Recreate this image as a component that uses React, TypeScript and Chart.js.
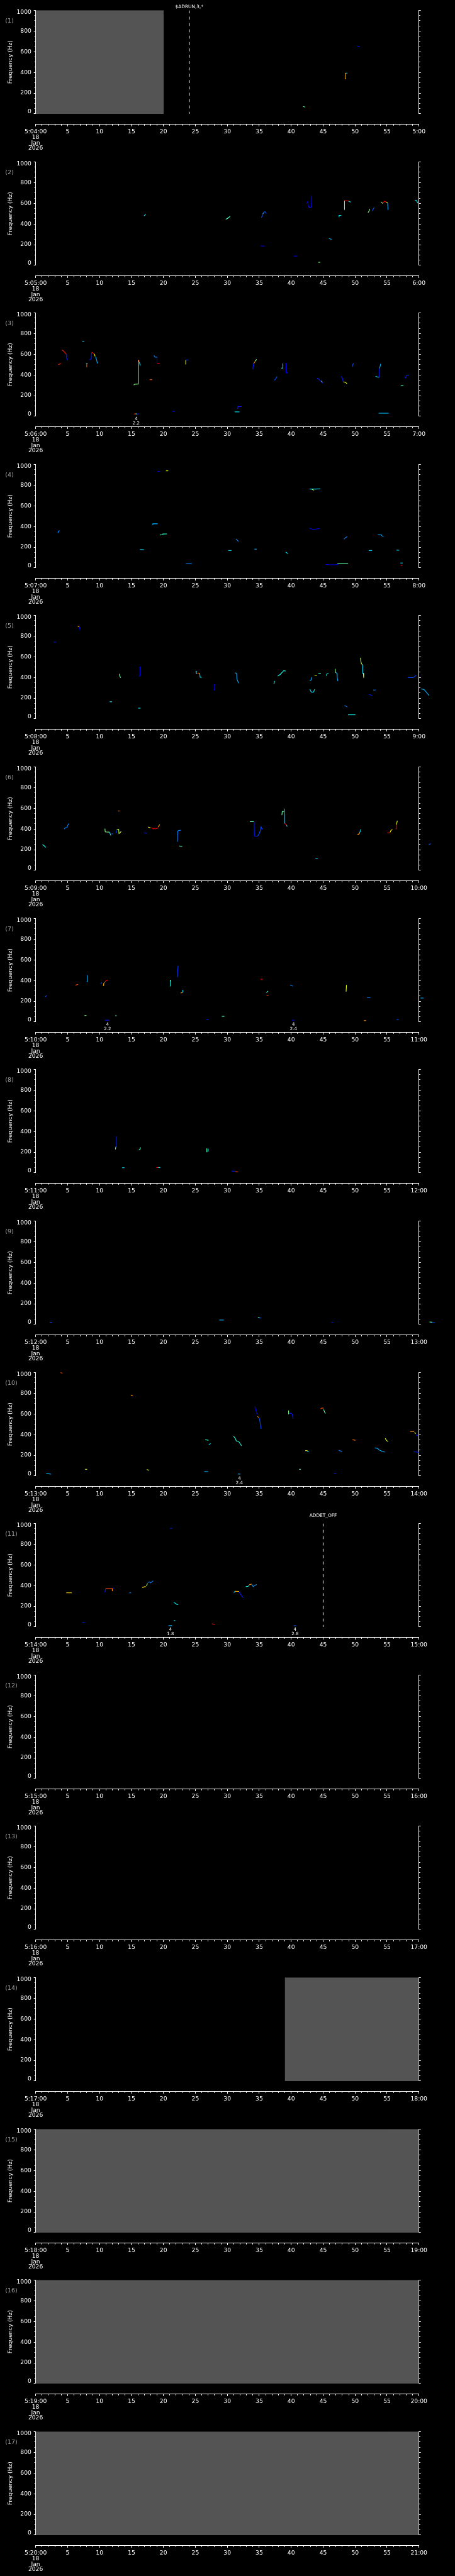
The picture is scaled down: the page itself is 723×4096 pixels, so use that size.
import React, { useEffect, useRef } from 'react';
import { Chart, registerables } from 'chart.js';

Chart.register(...registerables);

// ---------------- data ----------------
const PANEL_START = ['5:04:00', '5:05:00', '5:06:00', '5:07:00', '5:08:00', '5:09:00', '5:10:00', '5:11:00', '5:12:00', '5:13:00', '5:14:00', '5:15:00', '5:16:00', '5:17:00', '5:18:00', '5:19:00', '5:20:00'];
const PANEL_END = ['5:00', '6:00', '7:00', '8:00', '9:00', '10:00', '11:00', '12:00', '13:00', '14:00', '15:00', '16:00', '17:00', '18:00', '19:00', '20:00', '21:00'];
const DATE_LINES = ['18', 'Jan', '2026'];
const X_MIN = 0, X_MAX = 60, X_MINOR = 1, X_MAJOR = 5;
const Y_MIN = 0, Y_MAX = 1000, Y_MINOR = 50, Y_MAJOR = 200;
const Y_TITLE = 'Frequency (Hz)';

// [panel, startSecond, endSecond] – grey "no data" spans
const GRAY_SPANS: number[][] = [[0, 0, 20.05], [13, 39.0, 60], [14, 0, 60], [15, 0, 60], [16, 0, 60]];
// dashed event lines
const EVENTS = [
  { panel: 0, t: 24.05, label: '$ADRUN,3,*' },
  { panel: 10, t: 45.0, label: 'ADDET_OFF' },
];
// small two-line markers under the plot
const MARKERS = [
  { panel: 2, t: 15.74, top: '4', bottom: '2.2' },
  { panel: 6, t: 11.25, top: '4', bottom: '2.2' },
  { panel: 6, t: 40.36, top: '4', bottom: '2.4' },
  { panel: 9, t: 31.9, top: '4', bottom: '2.4' },
  { panel: 10, t: 21.1, top: '4', bottom: '1.8' },
  { panel: 10, t: 40.6, top: '4', bottom: '2.8' },
];

// traces: [level, t1, f1, t2, f2, ...]  (level = colour-map intensity 0..1)
const TRACES_1 = [
  [0.5, 41.9, 70, 42.15, 66],
  [0.78, 48.45, 338, 48.5, 340, 48.5, 392],
  [0.35, 48.55, 393, 48.75, 393],
  [0.12, 50.35, 654, 50.55, 652, 50.7, 646],
];
const TRACES_2 = [
  [0.35, 17.0, 480, 17.2, 492],
  [0.45, 29.8, 446, 30.0, 452, 30.2, 462, 30.4, 472],
  [0.66, 30.0, 452, 30.15, 460],
  [0.2, 35.35, 465, 35.5, 480, 35.6, 500, 35.75, 515, 35.9, 520, 36.05, 505],
  [0.66, 35.6, 500, 35.7, 508],
  [0.12, 35.3, 187, 35.8, 187],
  [0.12, 40.45, 90, 40.9, 90],
  [0.12, 42.45, 600, 42.6, 617, 42.7, 570, 42.85, 560, 43.15, 563, 43.2, 668],
  [0.8, 42.8, 563, 42.9, 560],
  [0.55, 44.3, 30, 44.5, 30],
  [0.3, 45.95, 260, 46.3, 252],
  [0.35, 47.5, 470, 47.5, 483, 47.8, 483],
  [0.55, 48.35, 540, 48.35, 622],
  [0.9, 48.4, 624, 49.0, 622],
  [0.35, 49.0, 620, 49.3, 612],
  [0.55, 52.05, 512, 52.2, 525, 52.3, 543],
  [0.2, 52.7, 527, 52.8, 540, 52.95, 556],
  [0.55, 54.1, 612, 54.3, 600],
  [0.9, 54.4, 605, 54.6, 620, 54.8, 615],
  [0.66, 54.9, 610, 55.05, 605],
  [0.3, 55.1, 600, 55.15, 540],
  [0.35, 59.4, 630, 59.6, 628, 59.8, 605],
];
const TRACES_3 = [
  [0.88, 3.6, 500, 3.9, 510],
  [0.88, 4.15, 640, 4.4, 630, 4.6, 615, 4.75, 605],
  [0.15, 4.8, 600, 4.85, 560, 5.0, 543],
  [0.35, 7.35, 726, 7.55, 722],
  [0.85, 8.0, 476, 8.0, 508],
  [0.35, 7.95, 510, 8.1, 510],
  [0.15, 8.5, 547, 8.7, 555, 8.75, 618],
  [0.9, 8.8, 617, 9.1, 605],
  [0.66, 9.2, 600, 9.3, 582],
  [0.3, 9.4, 570, 9.55, 545, 9.65, 515],
  [0.55, 15.4, 304, 15.5, 310, 16.0, 312],
  [0.6, 16.05, 312, 16.05, 540],
  [0.85, 16.1, 540, 16.2, 530],
  [0.35, 16.25, 520, 16.35, 494],
  [0.9, 15.4, 23, 15.6, 23],
  [0.5, 15.6, 23, 15.85, 23],
  [0.15, 15.85, 23, 16.1, 23],
  [0.85, 17.9, 354, 18.2, 354],
  [0.25, 18.55, 586, 18.7, 572, 19.0, 571],
  [0.12, 19.0, 571, 19.0, 511],
  [0.9, 19.05, 511, 19.4, 511],
  [0.12, 21.5, 47, 21.7, 47],
  [0.66, 23.5, 505, 23.5, 540],
  [0.15, 23.55, 545, 23.9, 545],
  [0.15, 31.6, 76, 31.65, 94, 32.2, 94],
  [0.35, 31.2, 43, 31.85, 43],
  [0.15, 34.0, 457, 34.1, 505],
  [0.8, 34.15, 510, 34.35, 530],
  [0.55, 34.4, 535, 34.55, 548],
  [0.2, 37.4, 351, 37.55, 361, 37.7, 375, 37.75, 383],
  [0.35, 38.5, 466, 38.7, 467, 38.7, 509],
  [0.12, 39.1, 511, 39.2, 511, 39.2, 419, 39.45, 419],
  [0.15, 44.1, 366, 44.3, 360, 44.5, 345, 44.7, 335, 44.9, 323],
  [0.66, 44.75, 340, 44.85, 330],
  [0.15, 47.85, 383, 48.0, 370, 48.15, 333],
  [0.66, 48.2, 332, 48.45, 330, 48.7, 318],
  [0.2, 49.55, 478, 49.6, 495, 49.75, 511],
  [0.35, 53.25, 386, 53.5, 380, 53.7, 378],
  [0.15, 53.75, 378, 53.8, 460],
  [0.3, 53.85, 465, 54.0, 504],
  [0.3, 53.75, 30, 55.2, 30],
  [0.45, 57.2, 294, 57.5, 300],
  [0.15, 57.8, 375, 57.95, 372, 58.0, 394, 58.4, 399],
];
const TRACES_4 = [
  [0.25, 3.5, 340, 3.55, 355, 3.7, 358],
  [0.35, 16.4, 178, 16.9, 176],
  [0.3, 18.3, 420, 18.35, 426, 19.05, 426],
  [0.12, 19.15, 933, 19.4, 933],
  [0.66, 20.45, 938, 20.7, 938],
  [0.45, 19.5, 318, 19.8, 320, 19.9, 327, 20.5, 328],
  [0.25, 23.6, 43, 24.4, 43],
  [0.35, 30.2, 168, 30.6, 168],
  [0.25, 31.4, 277, 31.55, 270, 31.7, 258],
  [0.3, 34.3, 181, 34.55, 181],
  [0.35, 39.2, 150, 39.45, 140],
  [0.35, 42.95, 762, 43.8, 762, 44.5, 764],
  [0.66, 43.3, 758, 43.5, 752],
  [0.12, 42.9, 383, 43.3, 374, 43.8, 375, 44.4, 379],
  [0.12, 45.45, 33, 46.0, 30, 47.0, 30, 47.3, 33],
  [0.5, 47.3, 40, 48.85, 40],
  [0.25, 48.3, 280, 48.5, 292, 48.75, 302],
  [0.35, 52.2, 168, 52.6, 168],
  [0.3, 53.6, 320, 54.1, 320, 54.2, 310, 54.4, 303],
  [0.35, 56.55, 172, 56.85, 170],
  [0.35, 57.15, 47, 57.4, 47],
  [0.9, 57.2, 24, 57.35, 24],
];
const TRACES_5 = [
  [0.15, 2.9, 741, 3.1, 741],
  [0.8, 6.65, 893, 6.8, 890],
  [0.12, 6.85, 885, 6.9, 872],
  [0.35, 11.65, 165, 11.9, 165],
  [0.5, 13.1, 431, 13.15, 415, 13.3, 400],
  [0.1, 16.2, 413, 16.3, 415, 16.35, 503],
  [0.35, 16.1, 103, 16.35, 103],
  [0.35, 25.1, 461, 25.15, 436],
  [0.9, 25.2, 436, 25.5, 441],
  [0.66, 25.55, 440, 25.65, 437],
  [0.35, 25.7, 430, 25.75, 402, 25.95, 400],
  [0.12, 27.95, 278, 28.0, 330, 28.1, 330],
  [0.3, 31.25, 443, 31.45, 440, 31.5, 390, 31.6, 370, 31.75, 348],
  [0.4, 37.3, 340, 37.4, 362],
  [0.4, 37.95, 415, 38.3, 430, 38.6, 450, 38.85, 465, 39.1, 462],
  [0.3, 42.95, 370, 43.1, 375, 43.2, 400],
  [0.35, 42.95, 283, 43.05, 268, 43.25, 255, 43.5, 258, 43.65, 283],
  [0.66, 43.7, 422, 44.0, 422],
  [0.45, 44.3, 437, 44.6, 437],
  [0.4, 45.5, 420, 45.6, 435, 45.8, 437],
  [0.55, 46.9, 480, 46.95, 447],
  [0.3, 47.0, 447, 47.15, 440, 47.2, 400, 47.3, 368],
  [0.25, 48.4, 128, 48.75, 115],
  [0.4, 48.95, 39, 50.0, 39],
  [0.6, 50.85, 587, 50.9, 560, 51.0, 531],
  [0.8, 51.05, 528, 51.15, 522],
  [0.35, 51.2, 520, 51.2, 437],
  [0.66, 51.3, 440, 51.35, 400],
  [0.15, 52.25, 234, 52.6, 227],
  [0.25, 52.9, 278, 53.15, 278],
  [0.2, 58.3, 400, 59.0, 398, 59.3, 405, 59.5, 418],
  [0.3, 60.4, 288, 60.8, 282, 61.0, 270, 61.3, 245, 61.55, 228],
];
const TRACES_6 = [
  [0.4, 1.1, 248, 1.3, 240, 1.55, 225],
  [0.25, 4.5, 402, 4.6, 410, 4.9, 415, 5.0, 430, 5.15, 449],
  [0.55, 10.85, 400, 10.9, 372, 11.5, 370],
  [0.35, 11.6, 365, 11.75, 340],
  [0.2, 11.9, 352, 12.1, 355],
  [0.2, 12.6, 365, 12.65, 383],
  [0.6, 12.75, 396, 13.0, 396, 13.05, 355],
  [0.65, 13.15, 360, 13.35, 374],
  [0.8, 12.95, 574, 13.1, 574],
  [0.15, 17.0, 363, 17.35, 359],
  [0.66, 17.65, 418, 17.9, 412],
  [0.92, 18.0, 412, 18.25, 408, 18.4, 400, 18.65, 408, 18.8, 400, 19.0, 408, 19.1, 409],
  [0.8, 19.2, 420, 19.4, 440],
  [0.25, 22.2, 280, 22.25, 380, 22.4, 385, 22.7, 388],
  [0.45, 22.55, 235, 22.9, 233],
  [0.5, 33.6, 471, 34.1, 471],
  [0.15, 34.2, 468, 34.25, 331, 34.7, 331],
  [0.2, 34.8, 335, 35.0, 355, 35.2, 390, 35.3, 420, 35.45, 400],
  [0.5, 38.55, 536, 38.6, 570, 38.85, 570],
  [0.35, 38.9, 593, 38.95, 458],
  [0.9, 39.0, 455, 39.25, 440],
  [0.35, 39.3, 435, 39.35, 426],
  [0.35, 43.85, 118, 44.1, 118],
  [0.8, 50.4, 350, 50.55, 346, 50.6, 355],
  [0.35, 50.7, 358, 50.8, 380, 50.85, 393],
  [0.9, 55.1, 363, 55.4, 363],
  [0.7, 55.5, 370, 55.6, 385, 55.8, 393],
  [0.9, 56.4, 402, 56.45, 440],
  [0.66, 56.5, 445, 56.6, 477],
  [0.2, 61.55, 246, 61.8, 258],
];
const TRACES_7 = [
  [0.2, 1.55, 246, 1.7, 253],
  [0.85, 6.3, 356, 6.6, 362],
  [0.55, 7.7, 62, 7.9, 62],
  [0.3, 8.05, 390, 8.1, 450],
  [0.2, 10.2, 370, 10.35, 378],
  [0.75, 10.6, 353, 10.65, 370, 10.75, 381],
  [0.9, 10.9, 390, 11.05, 403, 11.3, 405],
  [0.15, 10.9, 17, 11.5, 17],
  [0.5, 12.5, 60, 12.65, 60],
  [0.4, 21.1, 347, 21.1, 400],
  [0.66, 21.1, 395, 21.15, 403],
  [0.18, 22.2, 437, 22.25, 500, 22.3, 540],
  [0.78, 22.75, 280, 22.95, 283],
  [0.35, 23.0, 290, 23.05, 306],
  [0.15, 26.75, 24, 27.05, 24],
  [0.45, 29.2, 54, 29.5, 54],
  [0.9, 35.25, 413, 35.5, 413],
  [0.45, 36.15, 285, 36.35, 296],
  [0.85, 36.2, 253, 36.4, 253],
  [0.25, 39.9, 353, 40.2, 347],
  [0.12, 40.2, 17, 40.5, 17],
  [0.66, 48.6, 296, 48.65, 353],
  [0.8, 51.4, 13, 51.7, 13],
  [0.25, 51.9, 236, 52.35, 236],
  [0.2, 56.55, 24, 56.8, 24],
  [0.3, 60.3, 231, 60.65, 231],
];
const TRACES_8 = [
  [0.5, 12.5, 230, 12.55, 250],
  [0.15, 12.65, 252, 12.65, 351],
  [0.35, 13.6, 50, 13.85, 50],
  [0.45, 16.2, 224, 16.35, 228, 16.4, 243],
  [0.9, 18.95, 52, 19.15, 52],
  [0.35, 19.15, 52, 19.45, 52],
  [0.5, 26.8, 234, 26.8, 202],
  [0.35, 26.95, 210, 27.0, 230],
  [0.15, 30.7, 18, 31.2, 15],
  [0.85, 31.3, 12, 31.65, 9],
];
const TRACES_9 = [
  [0.2, 2.27, 20, 2.5, 20],
  [0.3, 28.8, 43, 29.4, 43],
  [0.5, 34.85, 68, 35.0, 66],
  [0.2, 35.05, 62, 35.25, 62],
  [0.15, 46.35, 20, 46.5, 20],
  [0.5, 61.7, 24, 62.0, 22],
  [0.2, 62.0, 18, 62.45, 15],
];
const TRACES_10 = [
  [0.85, 3.95, 998, 4.15, 994],
  [0.3, 1.7, 22, 2.0, 22, 2.35, 19],
  [0.66, 7.8, 65, 8.0, 65],
  [0.78, 14.95, 781, 15.15, 776],
  [0.66, 17.45, 62, 17.7, 56],
  [0.3, 26.45, 43, 26.95, 43],
  [0.45, 26.6, 350, 27.0, 346],
  [0.35, 27.15, 305, 27.35, 312],
  [0.42, 31.0, 383, 31.25, 365, 31.4, 340, 31.8, 332, 32.05, 310, 32.2, 295],
  [0.3, 31.7, 19, 32.0, 19],
  [0.12, 34.35, 669, 34.55, 620, 34.65, 600],
  [0.8, 34.75, 575, 34.9, 566],
  [0.2, 35.0, 560, 35.1, 530, 35.15, 508, 35.3, 460],
  [0.55, 39.6, 630, 39.6, 600],
  [0.15, 39.7, 605, 39.95, 607, 40.15, 600, 40.3, 557],
  [0.5, 41.3, 65, 41.45, 65],
  [0.85, 44.65, 650, 44.85, 658, 45.0, 655],
  [0.5, 45.1, 640, 45.25, 615, 45.35, 607],
  [0.15, 46.75, 26, 47.0, 26],
  [0.66, 42.25, 245, 42.5, 245],
  [0.35, 42.55, 240, 42.7, 237],
  [0.25, 47.5, 247, 47.95, 236],
  [0.82, 49.65, 350, 50.0, 346],
  [0.3, 53.15, 272, 53.5, 268, 53.8, 250, 54.2, 240, 54.6, 232],
  [0.65, 54.75, 361, 54.85, 350, 55.0, 340, 55.1, 336],
  [0.8, 58.7, 430, 59.2, 430],
  [0.66, 59.35, 420, 59.45, 410],
  [0.15, 59.6, 398, 59.75, 390],
  [0.15, 59.2, 234, 59.95, 230],
];
const TRACES_11 = [
  [0.72, 4.85, 330, 5.6, 330],
  [0.15, 7.35, 43, 7.65, 43],
  [0.15, 10.85, 338, 10.95, 368],
  [0.85, 11.0, 371, 11.95, 371],
  [0.8, 12.0, 368, 12.0, 350],
  [0.15, 12.1, 370, 12.2, 375],
  [0.25, 14.7, 330, 14.9, 330],
  [0.72, 16.75, 381, 17.0, 388, 17.2, 390],
  [0.55, 17.35, 400, 17.5, 418],
  [0.25, 17.6, 430, 17.8, 437, 18.0, 425, 18.2, 437, 18.35, 443],
  [0.15, 21.1, 953, 21.3, 953],
  [0.3, 20.85, 13, 21.3, 13],
  [0.38, 21.65, 234, 21.9, 230, 22.05, 220, 22.25, 216],
  [0.35, 21.7, 62, 21.8, 62],
  [0.92, 27.65, 30, 28.0, 24],
  [0.35, 31.05, 335, 31.2, 343],
  [0.75, 31.3, 345, 31.8, 343],
  [0.15, 31.9, 335, 32.1, 315, 32.3, 298, 32.45, 284],
  [0.38, 32.95, 390, 33.25, 393, 33.4, 400],
  [0.8, 33.5, 410, 33.75, 413],
  [0.28, 33.85, 408, 34.05, 390, 34.2, 400, 34.55, 409],
  [0.2, 40.45, 13, 40.7, 13],
];
const TRACES_12: number[][] = [];
const TRACES_13: number[][] = [];
const TRACES_14: number[][] = [];
const TRACES_15: number[][] = [];
const TRACES_16: number[][] = [];
const TRACES_17: number[][] = [];
const TRACES = [TRACES_1, TRACES_2, TRACES_3, TRACES_4, TRACES_5, TRACES_6, TRACES_7, TRACES_8, TRACES_9,
  TRACES_10, TRACES_11, TRACES_12, TRACES_13, TRACES_14, TRACES_15, TRACES_16, TRACES_17];

// ---------------- layout / style ----------------
const S = 0.705;
const W = 723;
const CANVAS_H = 241;
const PANEL_PITCH = 341.3 * S;
const FONT = "'DejaVu Sans', sans-serif";
const AREA_LEFT = 80.3 * S;
const AREA_RIGHT = 944.3 * S;
const AREA_TOP = 23.3 * S;
const AREA_BOTTOM = 256.7 * S;
const X_AXIS_VALUE = -((280.7 - 256.7) / (256.7 - 23.3)) * 1000; // x axis sits below the plot
const TICK_FONT = 13 * S;
const TITLE_FONT = 13 * S;
const TITLE_LH = TITLE_FONT * 1.2;
const PAD_LEFT = 23.3 * S - TITLE_LH / 2;
const MAJOR_TL = 4.2 * S;
const MINOR_TL = 2.6 * S;
const GRAY = '#545454';
const TRACE_W = 1.1;
const EVENT_LABEL_Y: Record<number, number> = { 0: 15.8 * S, 10: 6.2 * S };

const JET_STOPS: [number, number[]][] = [
  [0, [0, 0, 140]], [0.125, [0, 0, 255]], [0.375, [0, 255, 255]], [0.55, [128, 255, 128]],
  [0.68, [255, 255, 0]], [0.8, [255, 140, 0]], [0.9, [255, 0, 0]], [1, [140, 0, 0]],
];
function jet(v: number): string {
  for (let i = 1; i < JET_STOPS.length; i++) {
    const [p1, c1] = JET_STOPS[i];
    const [p0, c0] = JET_STOPS[i - 1];
    if (v <= p1) {
      const f = (v - p0) / (p1 - p0);
      const c = c0.map((a, k) => Math.round(a + (c1[k] - a) * f));
      return `rgb(${c[0]},${c[1]},${c[2]})`;
    }
  }
  return 'rgb(140,0,0)';
}

const isMult = (v: number, m: number) => Math.abs(v / m - Math.round(v / m)) < 1e-6;

const decorPlugin = {
  id: 'panelDecor',
  afterDraw(chart: any, _args: any, opts: any) {
    const idx = opts.index as number;
    const { ctx, chartArea } = chart;
    const xs = chart.scales.x;
    ctx.save();
    ctx.textBaseline = 'middle';
    // panel number
    ctx.fillStyle = '#a0a0a0';
    ctx.font = `${13.5 * S}px ${FONT}`;
    ctx.textAlign = 'left';
    ctx.fillText(`(${idx + 1})`, 11.8 * S, 47.5 * S);
    // event labels
    ctx.fillStyle = '#ffffff';
    ctx.textAlign = 'center';
    ctx.font = `${10.5 * S}px ${FONT}`;
    EVENTS.filter((e) => e.panel === idx).forEach((e) => {
      ctx.fillText(e.label, xs.getPixelForValue(e.t), EVENT_LABEL_Y[idx] ?? 10 * S);
    });
    // markers
    ctx.font = `${10 * S}px ${FONT}`;
    MARKERS.filter((m) => m.panel === idx).forEach((m) => {
      const x = xs.getPixelForValue(m.t);
      ctx.fillText(m.top, x, chartArea.bottom + 5.6 * S);
      ctx.fillText(m.bottom, x, chartArea.bottom + 15.6 * S);
    });
    ctx.restore();
  },
};

function buildConfig(index: number): any {
  const datasets: any[] = [];
  TRACES[index].forEach((tr) => {
    const [v, ...xy] = tr;
    const data: { x: number; y: number }[] = [];
    for (let i = 0; i < xy.length; i += 2) data.push({ x: xy[i], y: xy[i + 1] });
    const col = jet(v);
    datasets.push({
      data, borderColor: col, backgroundColor: col, borderWidth: TRACE_W, pointRadius: 0,
      fill: false, clip: false, tension: 0, borderCapStyle: 'square', order: 1,
    });
  });
  EVENTS.filter((e) => e.panel === index).forEach((e) => {
    datasets.push({
      data: [{ x: e.t, y: Y_MAX }, { x: e.t, y: Y_MIN }], borderColor: '#ffffff', borderWidth: 1,
      borderDash: [6.7 * S, 7.6 * S], pointRadius: 0, fill: false, order: 2,
    });
  });
  GRAY_SPANS.filter((g) => g[0] === index).forEach((g) => {
    datasets.push({
      data: [{ x: g[1], y: Y_MAX }, { x: g[2], y: Y_MAX }], borderColor: GRAY, borderWidth: 1,
      backgroundColor: GRAY, fill: 'origin', pointRadius: 0, order: 3,
    });
  });

  return {
    type: 'line',
    data: { datasets },
    plugins: [decorPlugin],
    options: {
      animation: false,
      responsive: false,
      maintainAspectRatio: false,
      devicePixelRatio: 1,
      events: [],
      layout: { padding: { left: PAD_LEFT, right: 0, top: AREA_TOP, bottom: CANVAS_H - AREA_BOTTOM } },
      plugins: {
        legend: { display: false },
        tooltip: { enabled: false },
        panelDecor: { index },
      },
      scales: {
        x: {
          type: 'linear', axis: 'x',
          position: { y: X_AXIS_VALUE },
          afterDataLimits: (s: any) => { s.min = X_MIN; s.max = X_MAX; },
          ticks: {
            stepSize: X_MINOR, autoSkip: false, maxRotation: 0, minRotation: 0,
            color: '#ffffff', padding: 5,
            font: { family: FONT, size: TICK_FONT, lineHeight: 0.93 },
            callback: (value: any) => {
              const v = Number(value);
              if (Math.abs(v - X_MIN) < 1e-6) return [PANEL_START[index], ...DATE_LINES];
              if (Math.abs(v - X_MAX) < 1e-6) return PANEL_END[index];
              if (isMult(v, X_MAJOR)) return String(Math.round(v));
              return '';
            },
          },
          grid: {
            drawOnChartArea: false, drawTicks: true, tickLength: MAJOR_TL, tickColor: '#ffffff', tickWidth: 1,
            tickBorderDash: (c: any) => (c.tick && isMult(c.tick.value, X_MAJOR) ? [] : [MINOR_TL, 30]),
          },
          border: { display: true, color: '#ffffff', width: 1 },
        },
        y: {
          type: 'linear', axis: 'y', position: 'left', min: Y_MIN, max: Y_MAX,
          afterFit: (s: any) => { s.width = AREA_LEFT - PAD_LEFT; },
          ticks: {
            stepSize: Y_MINOR, autoSkip: false, color: '#ffffff', padding: 3.8,
            font: { family: FONT, size: TICK_FONT, lineHeight: 0.66 },
            callback: (value: any) => {
              const v = Number(value);
              if (!isMult(v, Y_MAJOR)) return '';
              if (Math.abs(v - Y_MAX) < 1e-6) return ['', String(v)];
              if (Math.abs(v - Y_MIN) < 1e-6) return [String(v), ''];
              return String(v);
            },
          },
          grid: {
            drawOnChartArea: false, drawTicks: true, tickLength: MAJOR_TL, tickColor: '#ffffff', tickWidth: 1,
            tickBorderDash: (c: any) => (c.tick && isMult(c.tick.value, Y_MAJOR) ? [] : [0, MAJOR_TL - MINOR_TL, MINOR_TL, 30]),
          },
          border: { display: true, color: '#ffffff', width: 1 },
          title: {
            display: true, text: Y_TITLE, color: '#ffffff', padding: 0,
            font: { family: FONT, size: TITLE_FONT, lineHeight: 1.2 },
          },
        },
        y2: {
          type: 'linear', axis: 'y', position: 'right', min: Y_MIN, max: Y_MAX,
          afterFit: (s: any) => { s.width = W - AREA_RIGHT; },
          ticks: { stepSize: Y_MINOR, display: false, autoSkip: false },
          grid: {
            drawOnChartArea: false, drawTicks: true, tickLength: MAJOR_TL, tickColor: '#ffffff', tickWidth: 1,
            tickBorderDash: (c: any) => (c.tick && isMult(c.tick.value, Y_MAJOR) ? [] : [MINOR_TL, 30]),
          },
          border: { display: true, color: '#ffffff', width: 1 },
        },
      },
    },
  };
}

function Panel({ index }: { index: number }) {
  const ref = useRef<HTMLCanvasElement>(null);
  useEffect(() => {
    if (!ref.current) return;
    const chart = new Chart(ref.current, buildConfig(index));
    return () => chart.destroy();
  }, [index]);
  return (
    <canvas
      ref={ref}
      width={W}
      height={CANVAS_H}
      style={{ position: 'absolute', left: 0, top: Math.round(index * PANEL_PITCH), width: W, height: CANVAS_H }}
    />
  );
}

export default function App() {
  useEffect(() => {
    document.body.style.margin = '0';
    document.body.style.background = '#000';
  }, []);
  return (
    <div style={{ position: 'absolute', left: 0, top: 0, width: W, height: 4096, background: '#000', overflow: 'hidden' }}>
      {PANEL_START.map((_, i) => (
        <Panel key={i} index={i} />
      ))}
    </div>
  );
}
